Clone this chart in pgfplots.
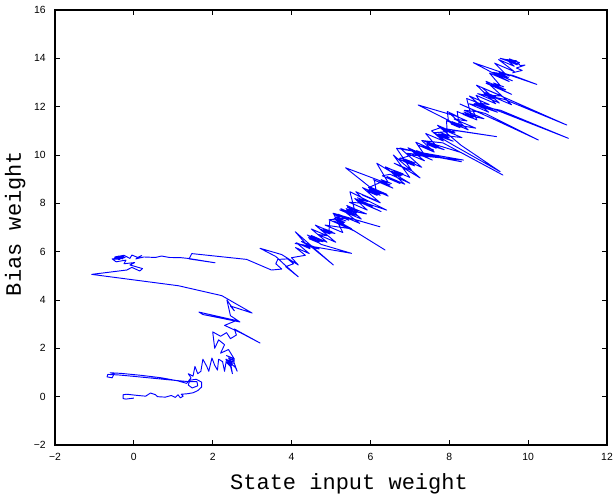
\documentclass[border=0pt]{standalone}
\usepackage{pgfplots}
\usepackage{pgfplotstable}
\pgfplotsset{compat=1.18}
\usepackage{fontspec}
\setmainfont{Liberation Sans}
\newfontfamily\mono{Liberation Mono}
\pgfplotstableread{
x y
0.00 -0.06
-0.20 -0.10
-0.27 -0.08
-0.27 0.08
-0.18 0.10
0.10 0.05
0.30 0.02
0.42 0.15
0.55 0.08
0.60 0.00
0.80 -0.02
0.95 0.05
1.05 -0.03
1.12 0.08
1.18 -0.05
1.25 0.02
1.20 0.10
1.35 0.12
1.50 0.16
1.62 0.25
1.72 0.40
1.72 0.60
1.58 0.72
1.42 0.68
1.38 0.48
1.48 0.36
1.62 0.45
1.60 0.62
1.40 0.62
1.00 0.68
0.50 0.76
0.00 0.84
-0.40 0.90
-0.66 0.92
-0.68 0.82
-0.55 0.78
-0.50 0.95
-0.60 0.99
-0.30 0.96
0.20 0.88
0.70 0.78
1.10 0.66
1.34 0.55
1.45 0.78
1.38 0.95
1.50 0.85
1.55 1.25
1.62 0.95
1.70 1.05
1.75 1.55
1.85 1.25
1.90 1.05
1.98 1.60
2.05 1.30
2.12 1.10
2.15 1.55
2.25 1.45
2.30 1.05
2.35 1.55
2.45 1.25
2.35 1.42
2.50 1.30
2.38 1.50
2.52 1.38
2.33 1.55
2.48 1.45
2.40 1.60
2.55 1.48
2.36 1.40
2.46 1.32
2.50 0.95
2.42 1.45
2.58 1.20
2.62 1.05
2.50 1.60
2.35 1.70
2.55 1.55
2.40 1.95
2.20 1.80
2.30 2.15
2.15 2.35
2.05 2.00
2.00 2.68
2.20 2.50
2.35 2.65
2.45 2.40
2.60 2.55
2.55 2.80
3.20 2.22
2.70 2.65
2.30 2.95
2.60 3.15
1.65 3.50
1.75 3.40
2.69 3.09
2.45 3.35
2.36 4.00
2.55 3.55
2.45 3.75
3.00 3.46
2.85 3.60
2.23 4.18
1.13 4.59
-1.07 5.06
-0.18 5.24
-0.05 5.35
0.15 5.20
0.22 5.30
-0.10 5.45
0.02 5.55
-0.25 5.50
-0.20 5.65
-0.45 5.58
-0.55 5.70
-0.35 5.68
-0.42 5.76
-0.28 5.70
-0.45 5.80
-0.30 5.74
-0.50 5.73
-0.33 5.78
-0.40 5.82
-0.22 5.76
-0.38 5.70
-0.26 5.80
-0.48 5.78
-0.25 5.85
-0.10 5.72
-0.05 5.86
0.10 5.76
0.20 5.84
0.05 5.70
0.25 5.78
0.55 5.76
0.70 5.82
0.90 5.76
1.20 5.75
1.38 5.72
2.06 5.54
1.40 5.70
1.47 5.92
2.86 5.68
3.49 5.24
3.75 5.28
3.60 5.50
3.65 5.68
3.90 5.70
4.05 5.50
3.85 5.38
4.17 4.96
3.85 5.42
3.60 5.80
3.20 6.14
3.75 5.88
4.17 5.45
4.00 5.75
4.35 5.85
4.10 6.17
4.45 5.92
4.12 6.37
4.47 6.12
4.09 6.83
4.60 6.10
5.06 5.45
4.50 6.20
4.25 6.42
4.70 6.11
4.09 6.34
5.52 5.93
4.75 6.30
4.40 6.69
4.80 6.41
4.45 6.53
4.67 6.38
4.49 6.55
4.70 6.41
4.43 6.58
4.63 6.45
4.51 6.60
4.73 6.47
4.47 6.63
4.65 6.51
4.50 6.67
4.90 6.39
4.50 6.94
4.90 6.66
4.67 6.71
5.12 6.39
4.60 7.10
5.10 6.75
4.75 6.88
4.97 6.73
4.79 6.90
5.00 6.76
4.73 6.93
4.93 6.80
4.81 6.95
5.03 6.82
4.77 6.98
4.95 6.86
4.97 7.31
5.60 6.85
6.37 6.07
5.50 6.95
4.85 7.10
5.30 6.79
5.06 7.59
6.24 7.03
5.45 7.40
4.95 7.32
5.35 7.04
5.07 7.27
5.52 6.95
5.10 7.33
5.32 7.18
5.14 7.35
5.35 7.21
5.08 7.38
5.28 7.25
5.16 7.40
5.38 7.27
5.12 7.43
5.30 7.31
5.05 7.59
5.45 7.30
5.18 7.55
5.73 7.17
5.25 7.78
5.65 7.50
5.22 7.73
5.77 7.35
5.40 7.91
5.90 7.56
5.40 7.73
5.62 7.58
5.44 7.75
5.65 7.61
5.38 7.78
5.58 7.65
5.46 7.80
5.68 7.67
5.42 7.83
5.60 7.71
5.48 8.48
6.41 7.72
5.90 8.00
5.47 8.04
5.92 7.72
5.60 8.20
6.05 7.88
5.72 8.05
6.27 7.66
5.65 8.13
5.87 7.98
5.69 8.15
5.90 8.01
5.63 8.18
5.83 8.05
5.71 8.20
5.93 8.07
5.67 8.23
5.85 8.11
5.63 8.48
6.13 8.13
5.80 8.34
6.25 8.02
5.80 8.65
6.25 8.33
5.37 9.47
6.30 8.90
5.95 8.65
6.45 8.30
5.97 8.69
6.42 8.37
5.95 8.48
6.17 8.33
5.99 8.50
6.20 8.36
5.93 8.53
6.13 8.40
6.01 8.55
6.23 8.42
5.97 8.58
6.15 8.46
6.10 8.96
6.55 8.65
6.07 8.98
6.57 8.63
6.25 8.88
6.47 8.73
6.29 8.90
6.50 8.76
6.23 8.93
6.43 8.80
6.31 8.95
6.53 8.82
6.27 8.98
6.45 8.86
6.16 9.66
7.00 8.83
6.50 9.20
6.30 9.14
6.75 8.82
6.42 9.11
6.87 8.79
6.38 9.51
6.83 9.19
6.55 9.28
6.77 9.13
6.59 9.30
6.80 9.16
6.53 9.33
6.73 9.20
6.61 9.35
6.83 9.22
6.57 9.38
6.75 9.26
6.50 9.42
7.00 9.07
6.58 10.00
7.26 9.05
6.80 9.50
6.60 9.66
7.05 9.35
6.66 10.28
8.36 9.79
7.05 10.00
6.72 9.83
7.12 9.55
6.85 9.73
7.07 9.58
6.89 9.75
7.10 9.61
6.83 9.78
7.03 9.65
6.91 9.80
7.13 9.67
6.87 9.83
7.05 9.71
6.75 9.88
7.30 9.49
6.75 10.29
7.50 10.00
8.31 9.72
7.40 10.00
6.92 10.07
7.37 9.76
6.95 10.30
7.40 9.98
7.12 10.11
7.57 9.79
7.15 10.08
7.37 9.93
7.19 10.10
7.40 9.96
7.13 10.13
7.33 10.00
7.21 10.15
7.43 10.02
7.17 10.18
7.35 10.06
7.15 10.53
7.60 10.21
7.22 10.40
7.62 10.12
7.30 10.60
7.84 10.50
9.36 9.17
8.30 10.10
7.37 10.57
7.87 10.22
7.45 10.43
7.67 10.28
7.49 10.45
7.70 10.31
7.43 10.48
7.63 10.35
7.51 10.50
7.73 10.37
7.47 10.53
7.65 10.41
7.40 10.89
7.85 10.58
7.55 11.00
7.76 11.12
9.20 10.76
8.20 11.00
7.60 10.92
8.10 10.57
7.68 10.81
8.10 10.41
9.29 9.31
8.30 10.40
7.70 11.23
8.15 10.91
7.82 11.07
8.32 10.72
7.75 10.83
7.97 10.68
7.79 10.85
8.00 10.71
7.73 10.88
7.93 10.75
7.81 10.90
8.03 10.77
7.77 10.93
7.95 10.81
7.93 11.42
8.33 11.14
7.21 12.07
8.23 11.58
7.95 11.80
7.98 11.39
8.48 11.04
8.00 11.73
8.45 11.41
8.12 11.49
8.67 11.11
8.05 11.28
8.27 11.13
8.09 11.30
8.30 11.16
8.03 11.33
8.23 11.20
8.11 11.35
8.33 11.22
8.07 11.38
8.25 11.26
8.20 11.80
8.70 11.45
8.60 11.85
8.91 11.72
10.26 10.62
9.10 11.50
8.27 12.11
8.72 11.79
8.38 11.85
8.88 11.50
8.35 11.68
8.57 11.53
8.39 11.70
8.60 11.56
8.33 11.73
8.53 11.60
8.41 11.75
8.63 11.62
8.37 11.78
8.55 11.66
8.44 12.34
11.02 10.69
9.30 11.85
8.50 12.12
9.00 11.77
8.51 12.44
9.01 12.09
8.67 12.16
9.22 11.77
8.65 12.08
8.87 11.93
8.69 12.10
8.90 11.96
8.63 12.13
8.83 12.00
8.71 12.15
8.93 12.02
8.67 12.18
8.85 12.06
8.68 12.47
9.18 12.12
8.69 12.89
10.98 11.24
9.40 12.30
8.72 12.54
9.27 12.15
8.83 12.79
9.33 12.44
8.90 12.48
9.12 12.33
8.94 12.50
9.15 12.36
8.88 12.53
9.08 12.40
8.96 12.55
9.18 12.42
8.92 12.58
9.10 12.46
8.88 12.57
9.58 12.08
8.93 13.05
9.43 12.70
8.93 12.97
9.58 12.51
9.10 12.88
9.32 12.73
9.14 12.90
9.35 12.76
9.08 12.93
9.28 12.80
9.16 12.95
9.38 12.82
9.12 12.98
9.30 12.86
9.02 13.39
9.52 13.04
8.61 13.82
10.22 12.92
9.60 13.30
9.10 13.42
9.60 13.07
9.25 13.33
9.47 13.18
9.29 13.35
9.50 13.21
9.23 13.38
9.43 13.25
9.31 13.40
9.53 13.27
9.27 13.43
9.45 13.31
9.15 13.80
9.65 13.45
9.25 13.95
9.65 13.67
9.50 13.88
9.72 13.73
9.54 13.90
9.75 13.76
9.48 13.93
9.68 13.80
9.56 13.95
9.78 13.82
9.52 13.98
9.70 13.86
9.29 14.00
9.55 13.85
9.45 13.95
9.70 13.90
9.80 13.70
9.92 13.72
9.70 13.60
9.85 13.50
9.60 13.40
}\traj
\begin{document}
\begin{tikzpicture}
\begin{axis}[
  name=ax,
  scale only axis,
  width=414pt, height=326.25pt,
  xmin=-2, xmax=12, ymin=-2, ymax=16,
  xtick={-2,0,2,4,6,8,10,12},
  xticklabels={−2,0,2,4,6,8,10,12},
  ytick={-2,0,2,4,6,8,10,12,14,16},
  yticklabels={−2,0,2,4,6,8,10,12,14,16},
  tick align=inside,
  major tick length=4pt,
  tick style={black, line width=0.6pt},
  axis line style={black, line width=0.8pt},
  ticklabel style={font=\fontsize{7.8}{9}\selectfont},
  xticklabel style={yshift=-2.5pt},
  yticklabel style={xshift=-3.5pt},
  xlabel={State input weight},
  ylabel={Bias weight},
  label style={font=\mono\fontsize{16.5}{18}\selectfont},
  xlabel style={at={(axis description cs:0.5326,-0.1034)}, anchor=base},
  ylabel style={at={(axis description cs:-0.0616,0.509)}, anchor=base},
]
\addplot[blue, line width=0.7pt, line join=round] table {\traj};
\coordinate (bl) at (rel axis cs:0,0);
\coordinate (tr) at (rel axis cs:1,1);
\end{axis}
\pgfresetboundingbox
\path[use as bounding box] ([xshift=-41.25pt,yshift=-37.5pt]bl) rectangle ([xshift=4.5pt,yshift=7.5pt]tr);
\end{tikzpicture}
\end{document}
